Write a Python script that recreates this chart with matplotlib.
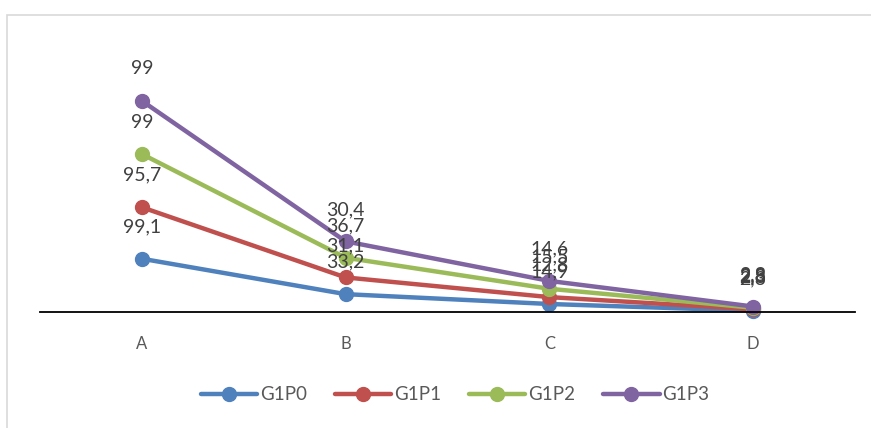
import matplotlib
matplotlib.use("Agg")
import matplotlib.pyplot as plt
import numpy as np
from matplotlib.patches import Rectangle

categories = ["A", "B", "C", "D"]
series_names = ["G1P0", "G1P1", "G1P2", "G1P3"]
g1p0 = [99.1, 33.2, 14.9, 2.3]
g1p1 = [95.7, 31.1, 12.8, 2.8]
g1p2 = [99, 36.7, 15.5, 2.8]
g1p3 = [99, 30.4, 14.6, 2.3]
colors = ["#4F81BD", "#C0504D", "#9BBB59", "#8064A2"]

plt.rcParams['font.family'] = ['Lato', 'DejaVu Sans']

fig = plt.figure(figsize=(8.71, 4.28), dpi=100)
ax = fig.add_axes([40/871, (428-312)/428, 815/871, (312-40)/428])

# chart border
fig.patches.append(Rectangle((7/871, -0.1), 1.0, 1.1 - 15/428, transform=fig.transFigure,
                             fill=False, edgecolor="#d9d9d9", linewidth=1.2))

x = np.arange(len(categories))
data = [g1p0, g1p1, g1p2, g1p3]
cum = np.zeros(len(categories))
for name, vals, c in zip(series_names, data, colors):
    vals = np.array(vals, dtype=float)
    cum = cum + vals
    ax.plot(x, cum, color=c, linewidth=3.2, marker='o', markersize=10, label=name,
            solid_capstyle='round', clip_on=False)
    for xi, yi, v in zip(x, cum, vals):
        txt = (f"{v:g}").replace('.', ',')
        ax.annotate(txt, (xi, yi), xytext=(0, 23), textcoords='offset points',
                    ha='center', va='center', fontsize=14, color='#404040')

ax.set_xlim(-0.5, len(categories) - 0.5)
ax.set_ylim(0, 506)
ax.set_xticks(x)
ax.set_xticklabels(categories, fontsize=12, color='#595959')
ax.tick_params(axis='x', length=0, pad=17)
ax.set_yticks([])
for s in ['left', 'right', 'top']:
    ax.spines[s].set_visible(False)
ax.spines['bottom'].set_color('black')
ax.spines['bottom'].set_linewidth(1.3)

fig.legend(loc='center', bbox_to_anchor=(455/871, 1 - 395/428), ncol=4, frameon=False,
           fontsize=13.5, labelcolor='#595959', handlelength=3.0, handletextpad=0.15,
           columnspacing=1.5, numpoints=1)

fig.savefig("out.png", dpi=100)
